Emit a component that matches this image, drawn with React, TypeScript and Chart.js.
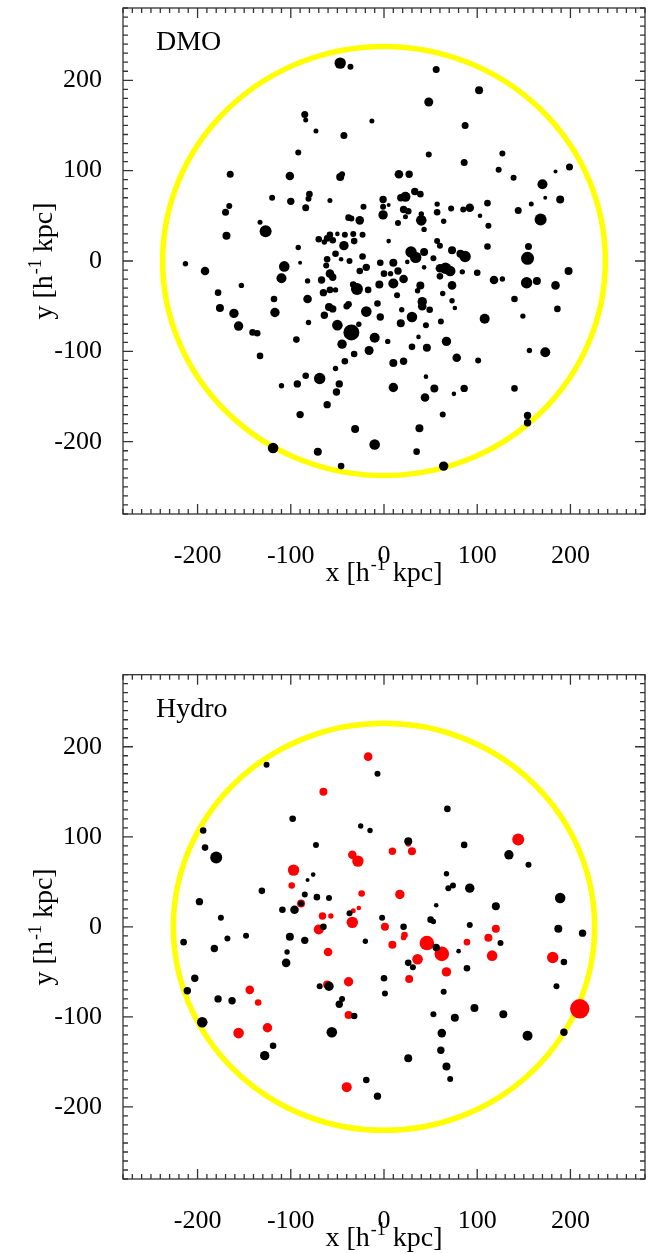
import { useEffect, useRef } from "react";
import { Chart, registerables } from "chart.js";

Chart.register(...registerables);

// ---------------- axes ----------------
const X_MIN = -280;
const X_MAX = 280;
const Y_MIN = -280;
const Y_MAX = 280;
const MAJOR_TICKS = [-200, -100, 0, 100, 200];
const MINOR_STEP = 10;

// virial radii drawn as circles (h^-1 kpc)
const DMO_RADIUS = 237.5;
const HYDRO_RADIUS = 226;

// ---------------- data: [x, y, marker radius] ----------------
const DMO_SUBHALOS: [number, number, number][] = [
  [-47, 219, 5.7], [-36, 215, 3], [-85, 162, 3.5], [-84, 156, 2.5], [-13, 155, 2.5], [-73, 144, 2.5],
  [-43, 139, 3.5], [-92, 120, 3], [-165, 96, 3.5], [-166, 61, 3], [-170, 54, 3.5], [-133, 43, 2.5],
  [-169, 28, 4],
  [56, 212, 3.5], [102, 189, 4], [48, 176, 4.5], [87, 150, 3.5], [48, 118, 3], [86, 109, 3.5],
  [127, 119, 3], [123, 101, 3], [139, 92, 3], [170, 85, 5], [184, 99, 2], [199, 104, 3.5],
  [173, 70, 2], [189, 68, 4], [158, 63, 2.5], [144, 56, 3.5], [168, 46, 6], [155, 16, 3.5], [154, 3, 6.5],
  [-101, 94, 4.3], [-47, 93, 4], [-45, 96, 3], [16, 96, 4.3], [27, 96, 3.7], [-120, 70, 3],
  [-100, 66, 3.7], [-80, 74, 3.3], [-81, 69, 3], [-84, 59, 3.5], [-58, 67, 2.5], [-1, 68, 3.7],
  [-1, 60, 3], [5, 62, 2], [-1, 51, 4.7], [-22, 60, 3], [-38, 48, 3.3], [-35, 47, 3], [-26, 45, 4.3],
  [23, 71, 5], [18, 70, 3.7], [33, 77, 3.7], [39, 74, 3.3], [21, 57, 3.7], [26, 55, 3.3], [23, 49, 2.5],
  [15, 42, 3], [40, 52, 2.7], [40, 45, 5.3], [43, 35, 2.7], [57, 63, 2.7], [57, 54, 3.3], [72, 58, 3],
  [64, 44, 2.7], [85, 57, 3], [92, 59, 4.3], [111, 64, 3.3], [103, 50, 2.3], [112, 39, 3], [111, 16, 3.3],
  [-127, 33, 6], [-70, 24, 3.3], [-58, 29, 3.3], [-61, 25, 3.3], [-55, 23, 3.3], [-64, 21, 2.7],
  [-50, 30, 2.3], [-42, 29, 3], [-33, 30, 3], [-23, 29, 3], [-43, 17, 4.7], [-32, 22, 3.3], [5, 22, 2.3],
  [-92, 15, 2.7], [-52, 8, 3.3], [-46, 2, 2.3], [-37, 0, 3], [-23, 5, 3.3], [-61, 2, 3.3], [-62, -5, 3],
  [-90, -2, 2], [-107, -6, 5.3], [-110, -19, 5], [-82, -22, 2.7], [-67, -21, 3.7], [-58, -14, 4.3],
  [-55, -18, 3.7], [-65, -35, 3.7], [-58, -32, 3.3], [-52, -32, 2.7], [-26, -11, 3.3], [-19, -7, 3.7],
  [-4, -2, 3.3], [10, -2, 4], [0, -14, 3.3], [7, -14, 2.7], [15, -11, 3.7], [21, -20, 4.3], [10, -25, 5],
  [-5, -26, 4], [-29, -31, 6], [-33, -26, 3.3], [-17, -32, 3.3], [25, -1, 2.3], [29, 10, 5.7],
  [34, 4, 5.7], [43, 10, 4], [53, 3, 3], [43, -7, 2.3], [57, 22, 3], [60, 17, 3], [73, 12, 4], [82, 8, 4],
  [87, 5, 5.7], [60, -8, 4.3], [66, -8, 5.7], [71, -11, 5.3], [60, -17, 3.3], [84, -12, 2.7],
  [100, -13, 3.3], [118, -21, 4.3], [127, -20, 2.7], [73, -27, 4.3], [39, -27, 4], [36, -33, 2.7],
  [63, -36, 2.7], [73, -44, 2.7], [76, -52, 2.3], [14, -38, 3], [41, -45, 4.7], [41, -50, 4.3],
  [49, -54, 3.3], [-7, -47, 3.3], [19, -54, 2.7], [-118, -42, 3.3], [-117, -57, 4.7], [-82, -42, 4.3],
  [-59, -51, 4], [-55, -53, 3.7], [-64, -60, 3.7], [-40, -50, 3.3], [-38, -48, 3.3], [-19, -56, 5.3],
  [-4, -62, 3.7], [30, -62, 5.3], [18, -69, 4], [-81, -68, 2.7], [-50, -71, 5.3], [-35, -79, 8],
  [-27, -70, 2.7], [-10, -85, 5], [4, -89, 2.7], [45, -71, 3], [61, -67, 3], [108, -64, 5],
  [-94, -87, 3.3], [-45, -92, 4.7], [-16, -99, 4.5], [37, -84, 2.3], [67, -89, 4.7], [30, -95, 3.3],
  [46, -96, 4],
  [-213, -3, 2.7], [-192, -11, 4.3], [-178, -35, 3.3], [-153, -27, 2.7], [-176, -52, 4], [-161, -58, 4.7],
  [-156, -72, 4.7], [-141, -79, 3.3], [-136, -80, 3.3], [-133, -105, 3.3], [-110, -138, 2.7],
  [-93, -136, 3.7], [-84, -127, 3.3], [-69, -130, 5.7], [-48, -136, 3.7], [-51, -145, 3.7],
  [-52, -119, 2.7], [-61, -159, 3.7], [-90, -170, 3.7], [-31, -186, 4], [-10, -203, 5.3], [-71, -211, 4],
  [-119, -207, 5.3], [-46, -227, 3.3], [-42, -111, 3.3], [-32, -103, 3.3],
  [198, -11, 4], [153, -24, 5.7], [164, -22, 4], [184, -27, 4.3], [140, -42, 3.3], [186, -53, 3.3],
  [149, -61, 2.7], [156, -99, 2.7], [173, -101, 5], [140, -141, 3.3], [154, -171, 3.7], [154, -179, 3.7],
  [64, -227, 4.7], [35, -211, 3.3], [38, -185, 4], [63, -170, 3], [44, -151, 4.3], [54, -141, 4],
  [75, -147, 2.3], [86, -141, 3.7], [45, -128, 2.3], [10, -140, 4.7], [10, -113, 4], [21, -111, 3.7],
  [78, -107, 4.3], [101, -110, 3],
];

const HYDRO_DARK: [number, number, number][] = [
  [-126, 180, 3], [-7, 170, 3], [-98, 120, 3.3], [-25, 112, 2.7], [-15, 107, 2.7], [-194, 107, 3.3],
  [-192, 88, 3.3], [-180, 77, 6], [-73, 91, 3], [-76, 58, 2.3], [-82, 52, 2], [-131, 40, 3.3],
  [-85, 36, 3], [-72, 33, 3.3], [-59, 32, 3], [-89, 26, 3], [-198, 28, 3.7], [-109, 19, 3.3],
  [-96, 19, 4.3], [-37, 15, 3], [-175, 10, 3], [-2, 10, 3],
  [68, 131, 3.3], [26, 95, 4], [86, 91, 3.3], [134, 80, 4.7], [155, 69, 3], [67, 59, 2.7], [69, 43, 3],
  [74, 46, 3], [92, 43, 4.7], [189, 32, 5.3], [56, 24, 2.3], [120, 23, 4], [50, 8, 3.3], [53, 6, 2.7],
  [-65, 0, 3.3], [-215, -17, 3.3], [-182, -24, 3.7], [-168, -13, 3], [-148, -10, 3], [-101, -11, 4],
  [-85, -15, 3.7], [-104, -28, 2.7], [-105, -40, 4.3], [-20, -16, 2.7], [-203, -57, 3.7],
  [-211, -71, 3.7], [-178, -80, 3.7], [-163, -82, 3.7], [-195, -106, 5.3], [-119, -132, 3.3],
  [-128, -143, 4.7], [-59, -66, 4.7], [-69, -66, 3], [-45, -80, 3], [-48, -86, 3.7], [-32, -99, 3.3],
  [-56, -117, 5.3], [-19, -170, 3.3], [-7, -188, 3.7], [0, -57, 3.3], [1, -74, 3],
  [21, 0, 3.3], [92, 2, 3], [187, -2, 4], [213, -7, 3.7], [56, -23, 3.7], [26, -40, 3.3], [31, -45, 3],
  [80, -27, 2.3], [89, -46, 3.3], [125, -18, 3], [193, -39, 3.3], [185, -66, 3], [193, -117, 3.7],
  [154, -121, 5], [128, -97, 4], [97, -90, 4], [76, -101, 4], [53, -97, 3], [64, -72, 3],
  [62, -118, 4.3], [61, -137, 3.7], [67, -155, 4], [71, -169, 3], [26, -146, 4],
];

const HYDRO_LUMINOUS: [number, number, number][] = [
  [-17, 189, 4.3], [-65, 150, 4], [-34, 80, 4.3], [-28, 73, 5.7], [-97, 63, 5.7], [-99, 46, 3.3],
  [-24, 37, 3.3], [-89, 26, 4], [-27, 21, 2.3], [-33, 18, 2.5], [-66, 12, 3.7], [-57, 12, 2.7],
  [-34, 5, 5.7],
  [144, 97, 6], [26, 92, 2.7], [9, 84, 3.7], [30, 84, 4], [17, 36, 4.7],
  [-70, -3, 5], [1, 0, 4], [-60, -28, 4.3], [-144, -70, 4.3], [-135, -84, 3.3], [-156, -118, 5.3],
  [-125, -112, 4.7], [-61, -64, 4], [-38, -61, 4.7], [-38, -98, 4], [-40, -178, 5],
  [120, -2, 4], [22, -9, 3.3], [21, -12, 2.7], [9, -20, 4], [46, -18, 7.3], [62, -30, 7.3],
  [36, -36, 5.3], [27, -58, 4], [67, -50, 4.7], [89, -17, 3.3], [112, -12, 4], [116, -32, 5.3],
  [181, -34, 5.7], [210, -91, 9.7],
];

const FONT = '"Liberation Serif", "Times New Roman", Times, serif';

const toBubbles = (arr: [number, number, number][]) => arr.map(([x, y, r]) => ({ x, y, r }));

function panelPlugin(label: string, radius: number) {
  return {
    id: "panelDecor",
    beforeDatasetsDraw(chart: any) {
      const { ctx, scales } = chart;
      const xs = scales.x;
      const ys = scales.y;
      const cx = xs.getPixelForValue(0);
      const cy = ys.getPixelForValue(0);
      const rx = Math.abs(xs.getPixelForValue(radius) - cx);
      const ry = Math.abs(ys.getPixelForValue(radius) - cy);
      ctx.save();
      ctx.strokeStyle = "#FFFF00";
      ctx.lineWidth = 5.5;
      ctx.beginPath();
      ctx.ellipse(cx, cy, rx, ry, 0, 0, Math.PI * 2);
      ctx.stroke();
      ctx.restore();
    },
    afterDraw(chart: any) {
      const { ctx, chartArea: a, scales } = chart;
      const xs = scales.x;
      const ys = scales.y;
      ctx.save();
      ctx.strokeStyle = "#333";
      ctx.lineWidth = 1.3;
      ctx.strokeRect(a.left, a.top, a.right - a.left, a.bottom - a.top);
      ctx.beginPath();
      for (let v = X_MIN; v <= X_MAX; v += MINOR_STEP) {
        const len = MAJOR_TICKS.includes(v) ? 10 : 5;
        const px = xs.getPixelForValue(v);
        ctx.moveTo(px, a.bottom);
        ctx.lineTo(px, a.bottom - len);
        ctx.moveTo(px, a.top);
        ctx.lineTo(px, a.top + len);
      }
      for (let v = Y_MIN; v <= Y_MAX; v += MINOR_STEP) {
        const len = MAJOR_TICKS.includes(v) ? 10 : 5;
        const py = ys.getPixelForValue(v);
        ctx.moveTo(a.left, py);
        ctx.lineTo(a.left + len, py);
        ctx.moveTo(a.right, py);
        ctx.lineTo(a.right - len, py);
      }
      ctx.stroke();

      // panel label
      ctx.fillStyle = "#000";
      ctx.textBaseline = "alphabetic";
      ctx.textAlign = "left";
      ctx.font = `28px ${FONT}`;
      ctx.fillText(label, a.left + 33, a.top + 42);

      // axis titles with superscript
      const drawTitle = (axis: string, cx: number, baseline: number) => {
        const p1 = `${axis} [h`;
        const sup = "-1";
        const p2 = " kpc]";
        ctx.font = `28px ${FONT}`;
        const w1 = ctx.measureText(p1).width;
        const w2 = ctx.measureText(p2).width;
        ctx.font = `18px ${FONT}`;
        const ws = ctx.measureText(sup).width;
        const total = w1 + ws + w2 + 1;
        let x0 = cx - total / 2;
        ctx.font = `28px ${FONT}`;
        ctx.fillText(p1, x0, baseline);
        x0 += w1 + 1;
        ctx.font = `18px ${FONT}`;
        ctx.fillText(sup, x0, baseline - 11);
        x0 += ws;
        ctx.font = `28px ${FONT}`;
        ctx.fillText(p2, x0, baseline);
      };
      drawTitle("x", (a.left + a.right) / 2, a.bottom + 67);
      ctx.save();
      ctx.translate(52, (a.top + a.bottom) / 2);
      ctx.rotate(-Math.PI / 2);
      drawTitle("y", 0, 0);
      ctx.restore();
      ctx.restore();
    },
  };
}

function makeChart(canvas: HTMLCanvasElement, datasets: any[], label: string, radius: number, xAxisHeight: number) {
  const tickFont = { family: FONT, size: 26 };
  return new Chart(canvas, {
    type: "bubble",
    data: { datasets },
    options: {
      animation: false,
      responsive: false,
      devicePixelRatio: 1,
      events: [],
      layout: { padding: { left: 0, right: 14, top: 5, bottom: 0 } },
      plugins: { legend: { display: false }, tooltip: { enabled: false } },
      scales: {
        x: {
          type: "linear",
          min: X_MIN,
          max: X_MAX,
          grid: { display: false },
          border: { display: false },
          afterBuildTicks: (s: any) => {
            s.ticks = MAJOR_TICKS.map((v) => ({ value: v }));
          },
          afterFit: (s: any) => {
            s.height = xAxisHeight;
            s.paddingLeft = 0;
            s.paddingRight = 0;
          },
          ticks: {
            font: tickFont,
            color: "#000",
            padding: 19,
            maxRotation: 0,
            autoSkip: false,
            callback: (v: any) => String(v),
          },
        },
        y: {
          type: "linear",
          min: Y_MIN,
          max: Y_MAX,
          grid: { display: false },
          border: { display: false },
          afterBuildTicks: (s: any) => {
            s.ticks = MAJOR_TICKS.map((v) => ({ value: v }));
          },
          afterFit: (s: any) => {
            s.width = 123;
            s.paddingTop = 0;
            s.paddingBottom = 0;
          },
          ticks: {
            font: tickFont,
            color: "#000",
            padding: 13,
            autoSkip: false,
            callback: (v: any) => String(v),
          },
        },
      },
    } as any,
    plugins: [panelPlugin(label, radius)],
  });
}

export default function App() {
  const topRef = useRef<HTMLCanvasElement>(null);
  const botRef = useRef<HTMLCanvasElement>(null);

  useEffect(() => {
    document.body.style.margin = "0";
    const pointStyle = { borderWidth: 0, hoverRadius: 0, hoverBorderWidth: 0 };
    const top = makeChart(
      topRef.current!,
      [{ label: "DMO subhaloes", data: toBubbles(DMO_SUBHALOS), backgroundColor: "#000000", ...pointStyle }],
      "DMO",
      DMO_RADIUS,
      151
    );
    const bottom = makeChart(
      botRef.current!,
      [
        { label: "dark subhaloes", data: toBubbles(HYDRO_DARK), backgroundColor: "#000000", ...pointStyle },
        { label: "luminous satellites", data: toBubbles(HYDRO_LUMINOUS), backgroundColor: "#FF0000", ...pointStyle },
      ],
      "Hydro",
      HYDRO_RADIUS,
      74
    );
    return () => {
      top.destroy();
      bottom.destroy();
    };
  }, []);

  return (
    <div style={{ width: 659, height: 1253, background: "#fff" }}>
      <canvas ref={topRef} width={659} height={665} style={{ display: "block", width: 659, height: 665 }} />
      <canvas ref={botRef} width={659} height={588} style={{ display: "block", width: 659, height: 588 }} />
    </div>
  );
}
